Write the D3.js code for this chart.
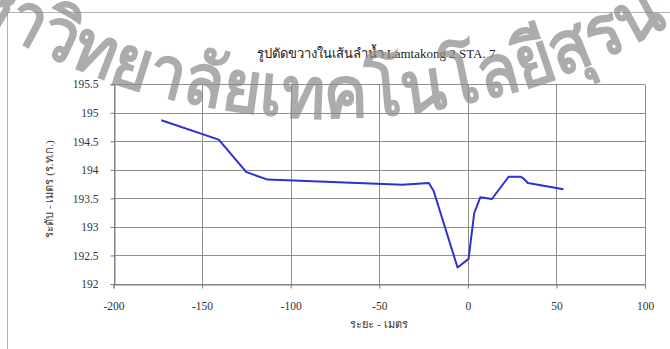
<!DOCTYPE html>
<html>
<head>
<meta charset="utf-8">
<script src="https://cdn.jsdelivr.net/npm/d3@7"></script>
<style>
  html, body { margin: 0; padding: 0; background: #fff; }
  svg { display: block; }
  text { font-family: "Liberation Serif", "Times New Roman", serif; }
</style>
</head>
<body>
<svg id="chart" width="670" height="349"></svg>
<script>
// Cross-section profile: horizontal distance (m) and bed level (m MSL)
const distance = [-173, -140.6, -125, -113, -37, -22, -19.3, -5.8, 0.4, 3.6, 7, 13.6, 23, 29.6, 31.4, 33.9, 54];
const level    = [194.87, 194.53, 193.96, 193.83, 193.74, 193.77, 193.63, 192.29, 192.44, 193.24, 193.52, 193.49, 193.88, 193.88, 193.85, 193.77, 193.66];

const xTicks = [-200, -150, -100, -50, 0, 50, 100];
const yTicks = [192, 192.5, 193, 193.5, 194, 194.5, 195, 195.5];

const titleText = "รูปตัดขวางในเส้นลำน้ำ Lamtakong 2  STA.  7";
const xTitle = "ระยะ - เมตร";
const yTitle = "ระดับ - เมตร (ร.ท.ก.)";
const watermark = "มหาวิทยาลัยเทคโนโลยีสุรนารี";

const svg = d3.select("#chart");

const x = d3.scaleLinear().domain([-200, 100]).range([113.5, 645]);
const y = d3.scaleLinear().domain([192, 195.5]).range([284, 84.3]);

// outer frame (top and left edges)
svg.append("path")
  .attr("d", "M7.5,349 V12.5 H670")
  .attr("fill", "none").attr("stroke", "#b4b4b4").attr("stroke-width", 1);

// title
svg.append("text")
  .attr("x", 376).attr("y", 58)
  .attr("text-anchor", "middle")
  .attr("font-size", 13)
  .attr("fill", "#222")
  .text(titleText);

// gridlines
const grid = svg.append("g");
grid.selectAll("line.h").data(yTicks).join("line")
  .attr("x1", x(-200)).attr("x2", x(100))
  .attr("y1", d => Math.round(y(d)) + 0.5).attr("y2", d => Math.round(y(d)) + 0.5)
  .attr("stroke", "#8f8f8f").attr("stroke-width", 1);
grid.selectAll("line.v").data(xTicks).join("line")
  .attr("x1", d => Math.round(x(d)) + 0.5).attr("x2", d => Math.round(x(d)) + 0.5)
  .attr("y1", y(195.5)).attr("y2", y(192))
  .attr("stroke", "#8f8f8f").attr("stroke-width", 1);

// axes
const xAxis = d3.axisBottom(x).tickValues(xTicks).tickSize(4).tickPadding(13).tickFormat(d3.format("d"));
const yAxis = d3.axisLeft(y).tickValues(yTicks).tickSize(4).tickPadding(12).tickFormat(d => d);

const gx = svg.append("g").attr("transform", `translate(0,${Math.round(y(192)) + 0.5})`).call(xAxis);
const gy = svg.append("g").attr("transform", `translate(${Math.round(x(-200)) + 0.5},0)`).call(yAxis);
[gx, gy].forEach(g => {
  g.select(".domain").attr("stroke", "#7a7a7a");
  g.selectAll(".tick line").attr("stroke", "#7a7a7a");
  g.selectAll(".tick text")
    .attr("font-family", "'Liberation Serif', 'Times New Roman', serif")
    .attr("font-size", 11.5).attr("fill", "#333");
});
gx.selectAll(".tick text").text(d => d < 0 ? "-" + Math.abs(d) : d);

// axis titles
svg.append("text")
  .attr("x", 379).attr("y", 328)
  .attr("text-anchor", "middle").attr("font-size", 11).attr("fill", "#333")
  .text(xTitle);
svg.append("text")
  .attr("transform", "translate(53,189) rotate(-90)")
  .attr("text-anchor", "middle").attr("font-size", 11).attr("fill", "#333")
  .text(yTitle);

// profile line
const line = d3.line().x((d, i) => x(distance[i])).y(d => y(d));
svg.append("path")
  .attr("d", line(level))
  .attr("fill", "none")
  .attr("stroke", "#2f2fd6")
  .attr("stroke-width", 2)
  .attr("stroke-linejoin", "round");

// curved watermark text
const R = 670, cx = 329, cy = -552;
const a0 = Math.PI * 0.5 + 0.9, a1 = Math.PI * 0.5 - 0.9;
const p0 = [cx + R * Math.cos(a0), cy + R * Math.sin(a0)];
const p1 = [cx + R * Math.cos(a1), cy + R * Math.sin(a1)];
svg.append("path").attr("id", "wmArc")
  .attr("d", `M${p0[0]},${p0[1]} A${R},${R} 0 0 0 ${p1[0]},${p1[1]}`)
  .attr("fill", "none");
svg.append("text")
  .attr("font-family", "'Noto Sans', 'DejaVu Sans', sans-serif")
  .attr("font-weight", "bold")
  .attr("font-size", 72)
  .attr("fill", "#8c8c8c").attr("fill-opacity", 0.72)
  .append("textPath")
  .attr("href", "#wmArc")
  .attr("startOffset", "50%")
  .attr("text-anchor", "middle")
  .attr("textLength", 858)
  .attr("lengthAdjust", "spacingAndGlyphs")
  .text(watermark);
</script>
</body>
</html>
